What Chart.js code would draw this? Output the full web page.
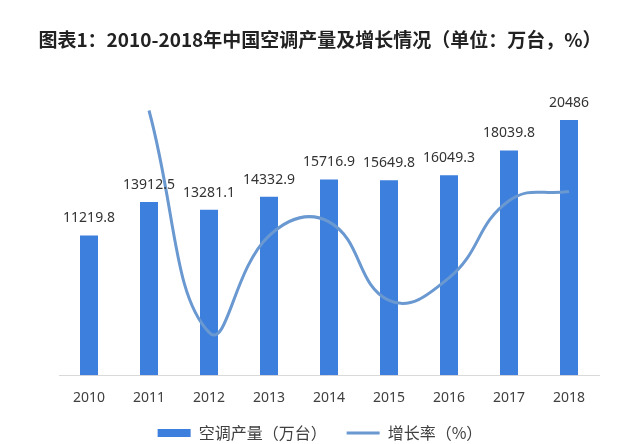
<!DOCTYPE html>
<html lang="zh">
<head>
  <meta charset="UTF-8">
  <title>2010-2018年中国空调产量及增长情况</title>
  <style>
    body {
      margin: 0;
      background: #ffffff;
    }
    .chart-box {
      width: 640px;
      height: 444px;
    }
  </style>
</head>
<body>

<div class="chart-box">
  <canvas id="acChart" width="640" height="444"></canvas>
</div>

<script src="https://cdn.jsdelivr.net/npm/chart.js"></script>
<script>
  // data
  const years = ['2010', '2011', '2012', '2013', '2014', '2015', '2016', '2017', '2018'];
  const output = [11219.8, 13912.5, 13281.1, 14332.9, 15716.9, 15649.8, 16049.3, 18039.8, 20486];
  const growth = [null, 24.0, -4.5, 7.9, 9.7, -0.4, 2.5, 12.4, 13.6];

  const barColor = '#3d7fdc';
  const lineColor = '#6a98d0';

  // numbers above the bars (dataset 1 is the bar dataset)
  const barLabels = {
    id: 'barLabels',
    afterDatasetsDraw(chart) {
      const ctx = chart.ctx;
      const meta = chart.getDatasetMeta(1);
      ctx.save();
      ctx.font = '14px "Noto Sans", sans-serif';
      ctx.fillStyle = '#333333';
      ctx.textAlign = 'center';
      ctx.textBaseline = 'middle';
      meta.data.forEach((bar, i) => {
        ctx.fillText(String(output[i]), bar.x, bar.y - 17);
      });
      ctx.restore();
    }
  };

  // hidden value axes, only used to reserve the side margins
  const hiddenAxis = (width, extra) => Object.assign({
    ticks: { display: false },
    grid: { display: false, drawTicks: false },
    border: { display: false },
    afterFit(scale) { scale.width = width; }
  }, extra);

  new Chart(document.getElementById('acChart'), {
    data: {
      labels: years,
      datasets: [
        {
          type: 'line',
          label: '增长率（%）',
          data: growth,
          yAxisID: 'yRate',
          borderColor: lineColor,
          backgroundColor: lineColor,
          borderWidth: 3,
          tension: 0.45,
          pointRadius: 0,
          pointStyle: 'line',
          clip: false,
          order: 0
        },
        {
          type: 'bar',
          label: '空调产量（万台）',
          data: output,
          yAxisID: 'y',
          backgroundColor: barColor,
          borderWidth: 0,
          barPercentage: 0.6,
          categoryPercentage: 0.5,
          pointStyle: 'rect',
          order: 1
        }
      ]
    },
    options: {
      responsive: false,
      animation: false,
      layout: {
        padding: { left: 0, right: 0, top: 0, bottom: -7 }
      },
      scales: {
        x: {
          grid: { display: false, drawTicks: false },
          border: { display: true, color: '#d9d9d9', width: 1 },
          ticks: {
            padding: 14,
            color: '#404040',
            font: { family: '"Noto Sans", sans-serif', size: 14 }
          },
          afterFit(scale) {
            // labels sit lower than the box Chart.js reserves; give the room back to the plot
            scale.height -= 15;
          }
        },
        y: hiddenAxis(59, { position: 'left', min: 0, max: 25000 }),
        yRate: hiddenAxis(41, { position: 'right', min: -10, max: 30 })
      },
      plugins: {
        title: {
          display: true,
          text: '图表1：2010-2018年中国空调产量及增长情况（单位：万台，%）',
          color: '#222222',
          font: { family: '"Noto Sans CJK SC", sans-serif', size: 19, weight: 'bold' },
          padding: { top: 28, bottom: 13 }
        },
        legend: {
          position: 'bottom',
          reverse: true,
          labels: {
            usePointStyle: true,
            pointStyleWidth: 33,
            boxHeight: 8,
            padding: 20,
            color: '#404040',
            font: { family: '"Noto Sans CJK SC", sans-serif', size: 16 }
          }
        },
        tooltip: { enabled: false }
      }
    },
    plugins: [barLabels]
  });
</script>

</body>
</html>
